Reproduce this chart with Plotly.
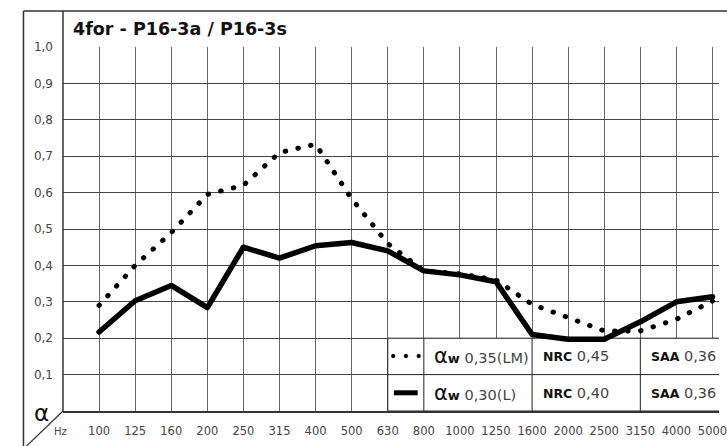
import plotly.graph_objects as go

# ---- data ----
freqs = ["100", "125", "160", "200", "250", "315", "400", "500", "630", "800",
         "1000", "1250", "1600", "2000", "2500", "3150", "4000", "5000"]
alpha_lm = [0.29, 0.40, 0.49, 0.595, 0.62, 0.71, 0.733, 0.583, 0.46, 0.385,
            0.377, 0.36, 0.293, 0.255, 0.22, 0.22, 0.252, 0.302]
alpha_l = [0.217, 0.303, 0.345, 0.284, 0.45, 0.42, 0.454, 0.463, 0.44, 0.385,
           0.374, 0.355, 0.21, 0.197, 0.197, 0.245, 0.30, 0.314]
y_ticks = [0.1, 0.2, 0.3, 0.4, 0.5, 0.6, 0.7, 0.8, 0.9, 1.0]
y_tick_text = ["0,1", "0,2", "0,3", "0,4", "0,5", "0,6", "0,7", "0,8", "0,9", "1,0"]
title_text = "4for - P16-3a / P16-3s"
legend_rows = [
    ("0,35(LM)", "0,45", "0,36"),
    ("0,30(L)", "0,40", "0,36"),
]

xi = list(range(len(freqs)))

W, H = 727, 446
L, R, T, B = 63, 0, 47, 35
PW, PH = W - L - R, H - T - B


def px(x):
    return (x - L) / PW


def py(y):
    return (H - B - y) / PH


FONT = "DejaVu Sans, Arial, sans-serif"

fig = go.Figure()
fig.add_trace(go.Scatter(x=xi, y=alpha_lm, mode="lines",
                         line=dict(color="black", width=5, dash="0.5px,12.5px"),
                         hoverinfo="skip"))
fig.add_trace(go.Scatter(x=xi, y=alpha_l, mode="lines",
                         line=dict(color="black", width=5.5),
                         hoverinfo="skip"))

shapes = []
LC = "#333"
# frame
shapes.append(dict(type="line", xref="paper", yref="paper", x0=px(23), x1=px(760), y0=py(11), y1=py(11),
                   line=dict(color=LC, width=1.5)))
shapes.append(dict(type="line", xref="paper", yref="paper", x0=px(23), x1=px(23), y0=py(11), y1=py(470),
                   line=dict(color=LC, width=1.5)))
shapes.append(dict(type="line", xref="paper", yref="paper", x0=0, x1=0, y0=0, y1=py(11),
                   line=dict(color=LC, width=1.5)))
shapes.append(dict(type="line", xref="paper", yref="paper", x0=0, x1=px(23), y0=0, y1=py(449),
                   line=dict(color=LC, width=1.2)))
# legend table
shapes.append(dict(type="rect", xref="x", yref="y", x0=8, x1=18.5, y0=0, y1=0.2,
                   fillcolor="white", line=dict(color="#222", width=1), layer="between"))
for xv in (9, 12, 15):
    shapes.append(dict(type="line", xref="x", yref="y", x0=xv, x1=xv, y0=0, y1=0.2,
                       line=dict(color="#222", width=1), layer="between"))
shapes.append(dict(type="line", xref="x", yref="y", x0=8, x1=18.5, y0=0.1, y1=0.1,
                   line=dict(color="#222", width=1), layer="between"))
shapes.append(dict(type="line", xref="x", yref="y", x0=8.17, x1=8.83, y0=0.05, y1=0.05,
                   line=dict(color="black", width=5), layer="between"))

annotations = []
annotations.append(dict(text="<b>" + title_text + "</b>", xref="paper", yref="paper",
                        x=px(71), y=py(29), xanchor="left", yanchor="middle", showarrow=False,
                        font=dict(family=FONT, size=17.5, color="#111")))
annotations.append(dict(text="α", xref="paper", yref="paper", x=px(41), y=py(413),
                        xanchor="center", yanchor="middle", showarrow=False,
                        font=dict(family=FONT, size=23, color="#111")))
annotations.append(dict(text="Hz", xref="paper", yref="paper", x=px(60), y=py(431),
                        xanchor="center", yanchor="middle", showarrow=False,
                        font=dict(family=FONT, size=10, color="#444")))
annotations.append(dict(text="• • •", xref="x", yref="y", x=8.5, y=0.15,
                        xanchor="center", yanchor="middle", showarrow=False,
                        font=dict(family=FONT, size=14, color="black")))
for i, (aw, nrc, saa) in enumerate(legend_rows):
    yv = 0.15 if i == 0 else 0.05
    annotations.append(dict(
        text="<span style='font-size:21px;color:#111'>α</span><b style='color:#111;font-size:13px'>w</b> " + aw,
        xref="x", yref="y", x=9.22, y=yv, xanchor="left", yanchor="middle", showarrow=False,
        font=dict(family=FONT, size=14.5, color="#444")))
    annotations.append(dict(
        text="<b style='color:#111;font-size:12.5px'>NRC</b> " + nrc,
        xref="x", yref="y", x=12.25, y=yv, xanchor="left", yanchor="middle", showarrow=False,
        font=dict(family=FONT, size=14.5, color="#444")))
    annotations.append(dict(
        text="<b style='color:#111;font-size:12.5px'>SAA</b> " + saa,
        xref="x", yref="y", x=15.25, y=yv, xanchor="left", yanchor="middle", showarrow=False,
        font=dict(family=FONT, size=14.5, color="#444")))

fig.update_layout(
    width=W, height=H,
    margin=dict(l=L, r=R, t=T, b=B, pad=0),
    paper_bgcolor="white", plot_bgcolor="white",
    showlegend=False,
    shapes=shapes, annotations=annotations,
    font=dict(family=FONT),
)
fig.update_xaxes(range=[-1, 17.18], tickvals=xi, ticktext=freqs,
                 showgrid=True, gridcolor="#666", gridwidth=1.3,
                 showline=True, linecolor=LC, linewidth=1.5,
                 zeroline=False, ticks="", ticklabelstandoff=8,
                 ticklabeloverflow="allow",
                 tickfont=dict(family=FONT, size=11.5, color="#444"))
fig.update_yaxes(range=[0, 1], tickvals=y_ticks, ticktext=y_tick_text,
                 showgrid=True, gridcolor="#444", gridwidth=1.2,
                 showline=False, zeroline=False, ticks="", ticklabelstandoff=9,
                 tickfont=dict(family=FONT, size=12, color="#444"))

post = """
document.body.style.margin='0';
document.body.style.overflow='hidden';
document.querySelectorAll('.scatterlayer path.js-line').forEach(function(p){
  p.style.strokeLinecap='round'; p.style.strokeLinejoin='round';
});
"""
fig.write_html("out.html", post_script=post, config={"displayModeBar": False})
